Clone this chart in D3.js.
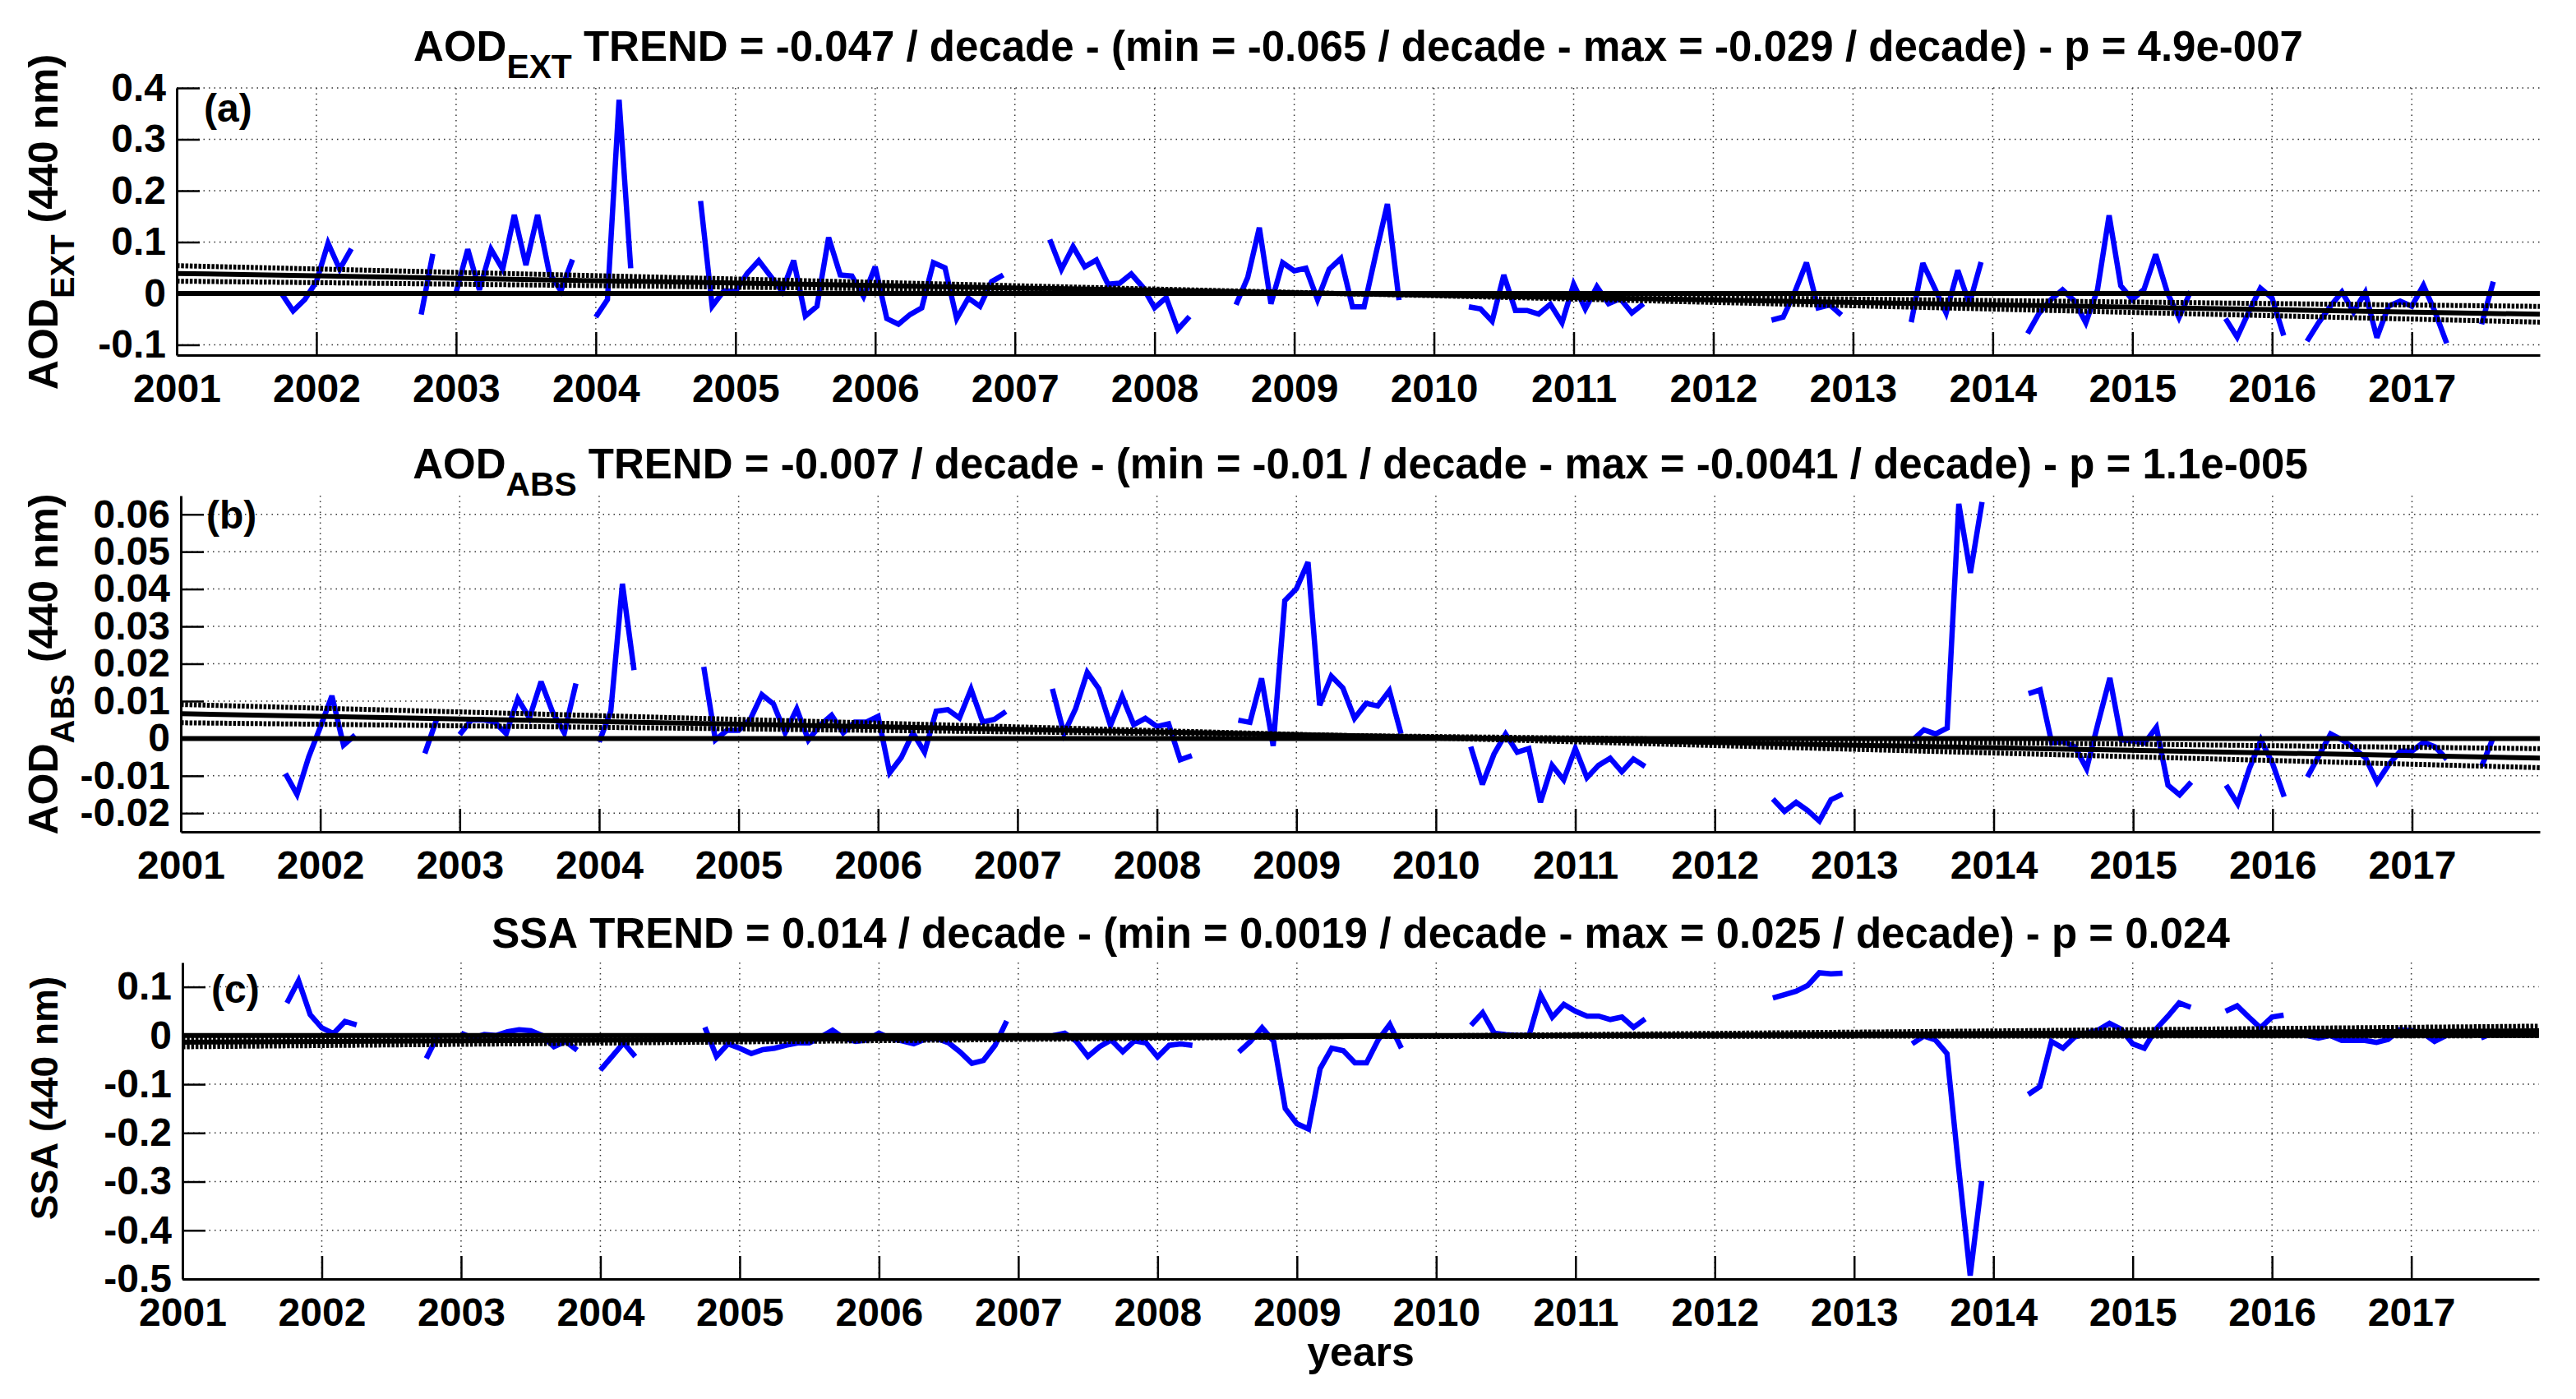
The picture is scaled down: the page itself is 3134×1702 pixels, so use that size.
<!DOCTYPE html>
<html><head><meta charset="utf-8">
<script src="https://cdn.jsdelivr.net/npm/d3@7"></script>
<style>
html,body{margin:0;padding:0;background:#fff;}
svg{display:block;font-family:"Liberation Sans",Arial,Helvetica,sans-serif;font-weight:bold;}
</style></head><body>
<svg id="chart" width="3134" height="1702"></svg>
<script>
// ---------------- DATA ----------------
const years = d3.range(2001, 2018);           // x tick labels 2001..2017
const n = null;                                // missing month
// monthly anomalies, one row per year (Jan..Dec), 2001..2017
const aodExt = [
  [n,n,n,n,n,n,n,n,n, 0.0,-0.034,-0.012],
  [0.023,0.098,0.047,0.087,n,n,n,n,n,-0.041,0.077,n],
  [0.002,0.086,0.007,0.086,0.047,0.153,0.055,0.153,0.04,0.005,0.066,n],
  [-0.046,-0.012,0.377,0.049,n,n,n,n,n,0.18,-0.025,0.005],
  [0.004,0.039,0.064,0.034,0.004,0.064,-0.044,-0.025,0.109,0.036,0.034,-0.006],
  [0.052,-0.049,-0.06,-0.041,-0.028,0.06,0.05,-0.049,-0.009,-0.025,0.023,0.036],
  [n,n,n,0.105,0.047,0.091,0.052,0.065,0.018,0.02,0.038,0.012],
  [-0.028,-0.008,-0.07,-0.045,n,n,n,-0.022,0.031,0.128,-0.02,0.06],
  [0.044,0.049,-0.012,0.047,0.068,-0.026,-0.026,0.076,0.174,-0.013,n,n],
  [n,n,n,-0.026,-0.03,-0.054,0.036,-0.033,-0.033,-0.04,-0.021,-0.057],
  [0.018,-0.03,0.013,-0.02,-0.01,-0.038,-0.02,n,n,n,n,n],
  [n,n,n,n,n,-0.052,-0.046,0.003,0.06,-0.028,-0.022,-0.042],
  [n,n,n,n,n,-0.056,0.059,0.011,-0.038,0.045,-0.02,0.061],
  [n,n,n,-0.078,-0.038,-0.012,0.007,-0.014,-0.057,0.007,0.152,0.015],
  [-0.012,0.008,0.076,0.002,-0.047,0.004,n,n,-0.049,-0.085,-0.036,0.01],
  [-0.009,-0.082,n,-0.093,-0.057,-0.025,0.003,-0.036,0.002,-0.086,-0.025,-0.015],
  [-0.025,0.016,-0.036,-0.097,n,n,-0.06,0.023,n,n,n,n]
];
const aodAbs = [
  [n,n,n,n,n,n,n,n,n,-0.0094,-0.015,-0.005],
  [0.003,0.0114,-0.0018,0.0009,n,n,n,n,n,-0.004,0.005,n],
  [0.001,0.005,0.005,0.0044,0.0013,0.0106,0.0055,0.0152,0.007,0.0015,0.0147,n],
  [-0.0009,0.0073,0.0414,0.0183,n,n,n,n,n,0.0192,-0.0004,0.0022],
  [0.0022,0.0051,0.0117,0.0092,0.0015,0.0079,-0.0004,0.0035,0.0062,0.0015,0.0044,0.0044],
  [0.0059,-0.0092,-0.0051,0.0015,-0.0037,0.0073,0.0077,0.0055,0.0132,0.0044,0.0051,0.0072],
  [n,n,n,0.0133,0.0013,0.008,0.0177,0.0133,0.0035,0.0113,0.0037,0.0054],
  [0.0032,0.0039,-0.0057,-0.0046,n,n,n,0.0049,0.0043,0.0161,-0.002,0.0369],
  [0.0401,0.0472,0.0089,0.0167,0.0135,0.0054,0.0094,0.0087,0.0128,0.0013,n,n],
  [n,n,n,-0.0022,-0.0123,-0.0042,0.0012,-0.0037,-0.0027,-0.0171,-0.0072,-0.0111],
  [-0.0027,-0.0105,-0.0072,-0.0053,-0.0089,-0.0055,-0.0075,n,n,n,n,n],
  [n,n,n,n,n,-0.0162,-0.0195,-0.0171,-0.0193,-0.0221,-0.0164,-0.0149],
  [n,n,n,n,n,-0.0005,0.0023,0.0012,0.0028,0.0628,0.0443,0.0633],
  [n,n,n,0.012,0.013,-0.0012,-0.0008,-0.0023,-0.0081,0.0043,0.0162,-0.0004],
  [-0.0007,-0.0012,0.003,-0.0125,-0.0151,-0.0117,n,n,-0.0125,-0.0175,-0.0081,-0.0004],
  [-0.0067,-0.0156,n,-0.0103,-0.0045,0.0012,-0.0004,-0.0026,-0.0052,-0.0117,-0.007,-0.0034],
  [-0.0034,-0.001,-0.0023,-0.0056,n,n,-0.0074,0.0003,n,n,n,n]
];
const ssa = [
  [n,n,n,n,n,n,n,n,n,0.067,0.113,0.043],
  [0.016,0.004,0.029,0.022,n,n,n,n,n,-0.047,0.0,n],
  [0.005,-0.005,0.002,0.0,0.008,0.012,0.01,0.0,-0.023,-0.012,-0.03,n],
  [-0.071,-0.043,-0.015,-0.043,n,n,n,n,n,0.017,-0.043,-0.017],
  [-0.026,-0.037,-0.029,-0.026,-0.02,-0.015,-0.015,-0.003,0.011,-0.006,-0.012,-0.009],
  [0.005,-0.006,-0.011,-0.017,-0.007,-0.006,-0.015,-0.034,-0.057,-0.051,-0.02,0.03],
  [n,n,n,0.0,0.005,-0.012,-0.043,-0.023,-0.009,-0.033,-0.011,-0.015],
  [-0.044,-0.02,-0.017,-0.02,n,n,n,-0.034,-0.012,0.016,-0.012,-0.15],
  [-0.181,-0.192,-0.068,-0.026,-0.031,-0.056,-0.056,-0.009,0.023,-0.026,n,n],
  [n,n,n,0.021,0.047,0.005,0.002,0.0,0.0,0.083,0.038,0.064],
  [0.05,0.04,0.04,0.033,0.038,0.017,0.034,n,n,n,n,n],
  [n,n,n,n,n,0.077,0.084,0.091,0.103,0.129,0.127,0.128],
  [n,n,n,n,n,-0.017,-0.001,-0.009,-0.037,-0.27,-0.493,-0.299],
  [n,n,n,-0.121,-0.105,-0.012,-0.026,-0.003,0.005,0.011,0.025,0.013],
  [-0.017,-0.026,0.013,0.039,0.067,0.058,n,n,0.05,0.061,0.038,0.016],
  [0.038,0.042,n,0.0,-0.005,0.0,-0.01,-0.01,-0.01,-0.014,-0.008,0.012],
  [0.01,0.005,-0.012,0.0,n,n,-0.005,0.005,n,n,n,n]
];
// trend fits (per decade), pivot of min/max lines
const seriesNames   = ["AOD|EXT", "AOD|ABS", "SSA"];
const trendPerDecade    = [-0.047, -0.007, 0.014];
const trendMinPerDecade = [-0.065, -0.01, 0.0019];
const trendMaxPerDecade = [-0.029, -0.0041, 0.025];
const pValues           = ["4.9e-007", "1.1e-005", "0.024"];
const trendPivotYear    = [2009.4, 2009.3, 2009.4];
const trendPivotValue   = [-0.0005, 0.0008, -0.002];
const yTicksA = [-0.1, 0, 0.1, 0.2, 0.3, 0.4];
const yTicksB = [-0.02, -0.01, 0, 0.01, 0.02, 0.03, 0.04, 0.05, 0.06];
const yTicksC = [-0.5, -0.4, -0.3, -0.2, -0.1, 0, 0.1];
const yDomains = [[-0.12, 0.4], [-0.025, 0.065], [-0.5, 0.15]];
const panelLetters = ["(a)", "(b)", "(c)"];

// ---------------- LAYOUT ----------------
const FS = 48, TFS = 51, LFS = 50;
const panels = [
  {left:215, right:3090, top:107, bottom:432, ticks:yTicksA, data:aodExt, labelY:148, labelX:248, titleY:74, ylCenter:270, ylFs:50},
  {left:220, right:3090, top:603, bottom:1012, ticks:yTicksB, data:aodAbs, labelY:643, labelX:251, titleY:582, ylCenter:808, ylFs:50},
  {left:222, right:3089, top:1171, bottom:1556, ticks:yTicksC, data:ssa, labelY:1220, labelX:257, titleY:1153, ylCenter:1336, ylFs:46}
];
const xDomain = [2001, 2017 + 11/12];

const svg = d3.select("#chart");
svg.append("rect").attr("width",3134).attr("height",1702).attr("fill","#fff");

// draws a run of text pieces (with subscripts) as separate text elements, centred on 0
function textRun(parent, parts) {
  const widths = parts.map(p => {
    if (p.gap) return p.gap;
    const t = parent.append("text").attr("font-size", p.fs).text(p.t);
    const w = t.node().getComputedTextLength();
    t.remove();
    return w;
  });
  const total = d3.sum(widths);
  let cx = -total / 2;
  parts.forEach((p, i) => {
    if (!p.gap) {
      parent.append("text").attr("x", cx).attr("y", p.dy || 0)
        .attr("font-size", p.fs).text(p.t);
    }
    cx += widths[i];
  });
}

panels.forEach((p, k) => {
  const x = d3.scaleLinear().domain(xDomain).range([p.left, p.right]);
  const y = d3.scaleLinear().domain(yDomains[k]).range([p.bottom, p.top]);
  const g = svg.append("g");

  // grid
  g.append("g").selectAll("line").data(years.slice(1)).join("line")
    .attr("x1", d => x(d)).attr("x2", d => x(d))
    .attr("y1", p.top).attr("y2", p.bottom)
    .attr("stroke", "#333").attr("stroke-width", 1.5).attr("stroke-dasharray", "1.5,5");
  g.append("g").selectAll("line").data(p.ticks).join("line")
    .attr("x1", p.left).attr("x2", p.right)
    .attr("y1", d => y(d)).attr("y2", d => y(d))
    .attr("stroke", "#333").attr("stroke-width", 1.5).attr("stroke-dasharray", "1.5,5");

  // data line
  const pts = p.data.flat().map((v, i) => ({t: 2001 + i / 12, v}));
  const line = d3.line().defined(d => d.v !== null).x(d => x(d.t)).y(d => y(d.v));
  g.append("path").datum(pts).attr("d", line)
    .attr("fill", "none").attr("stroke", "#0000ff").attr("stroke-width", 6.5)
    .attr("stroke-linejoin", "miter").attr("stroke-miterlimit", 3);

  // trend lines
  const ends = xDomain;
  const tline = d3.line().x(d => x(d[0])).y(d => y(d[1]));
  const mk = slope => ends.map(t => [t, trendPivotValue[k] + slope / 10 * (t - trendPivotYear[k])]);
  [trendMinPerDecade[k], trendMaxPerDecade[k]].forEach(s => {
    g.append("path").datum(mk(s)).attr("d", tline).attr("fill","none")
      .attr("stroke","#000").attr("stroke-width",6).attr("stroke-dasharray","3.5,1.8");
  });
  g.append("path").datum(mk(trendPerDecade[k])).attr("d", tline).attr("fill","none")
    .attr("stroke","#000").attr("stroke-width",6);
  g.append("path").datum(ends.map(t => [t, 0])).attr("d", tline).attr("fill","none")
    .attr("stroke","#000").attr("stroke-width",6);

  // axes
  const ax = g.append("g").attr("transform", `translate(0,${p.bottom})`)
    .call(d3.axisBottom(x).tickValues(years).tickFormat(d3.format("d"))
      .tickSize(-28).tickSizeOuter(0).tickPadding(23));
  const ay = g.append("g").attr("transform", `translate(${p.left},0)`)
    .call(d3.axisLeft(y).tickValues(p.ticks).tickFormat(d => String(d))
      .tickSize(-28).tickSizeOuter(0).tickPadding(13));
  [ax, ay].forEach(a => {
    a.select(".domain").attr("stroke","#000").attr("stroke-width",3);
    a.selectAll(".tick line").attr("stroke","#000").attr("stroke-width",2.5);
    a.selectAll(".tick text").attr("font-size", FS).attr("font-weight","bold")
      .attr("font-family", "Liberation Sans, Arial, sans-serif").attr("fill","#000");
  });

  // panel letter
  g.append("text").attr("x", p.labelX).attr("y", p.labelY).attr("font-size", FS).text(panelLetters[k]);

  // title
  const nm = seriesNames[k].split("|");
  const rest = `TREND = ${trendPerDecade[k]} / decade - (min = ${trendMinPerDecade[k]} / decade - max = ${trendMaxPerDecade[k]} / decade) - p = ${pValues[k]}`;
  const tg = g.append("g").attr("transform", `translate(${(p.left + p.right) / 2},${p.titleY})`);
  const tparts = [{t: nm[0], fs: TFS}];
  if (nm[1]) tparts.push({t: nm[1], fs: TFS * 0.8, dy: 21});
  tparts.push({gap: 0.278 * TFS}, {t: rest, fs: TFS});
  textRun(tg, tparts);

  // y label
  const fs = p.ylFs;
  const yg = g.append("g").attr("transform", `translate(70,${p.ylCenter}) rotate(-90)`);
  const yparts = [{t: nm[0], fs}];
  if (nm[1]) yparts.push({t: nm[1], fs: fs * 0.8, dy: 20});
  yparts.push({gap: 0.278 * fs}, {t: "(440 nm)", fs});
  textRun(yg, yparts);
});

// x label
svg.append("text").attr("x", (222 + 3089) / 2).attr("y", 1662).attr("text-anchor","middle")
  .attr("font-size", LFS).text("years");
</script>
</body></html>
